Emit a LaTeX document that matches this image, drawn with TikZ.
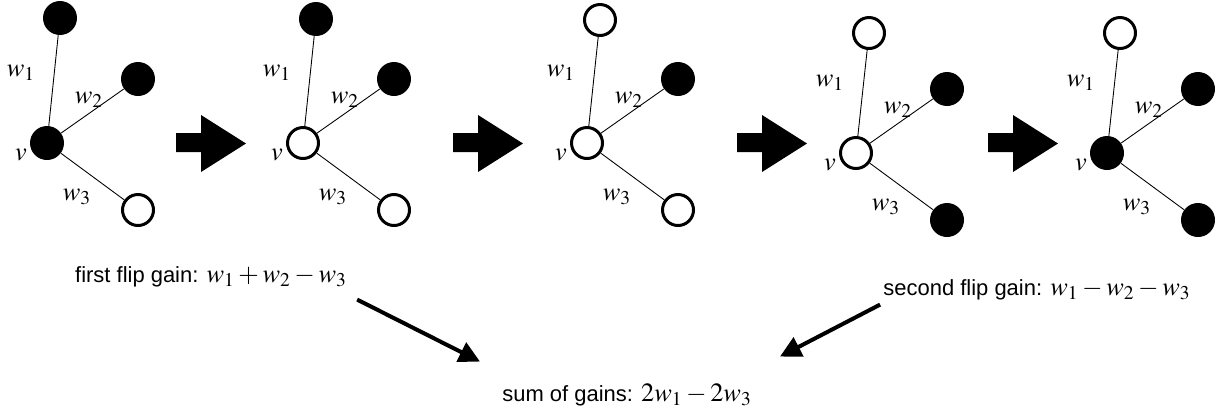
\documentclass[tikz,border=0pt]{standalone}
\usepackage{mathptmx}
\usepackage[no-math]{fontspec}
\setmainfont{Liberation Sans}
\usetikzlibrary{arrows.meta}

\newcommand\mth[1]{{\fontsize{15}{18}\selectfont$#1$}}

\tikzset{
  blk/.style={circle, fill=black, inner sep=0pt, minimum size=0.68cm},
  wht/.style={circle, draw=black, line width=0.06cm, fill=white, inner sep=0pt, minimum size=0.62cm},
  edge/.style={black, line width=0.5pt},
  lbl/.style={inner sep=0pt, font=\fontsize{15}{18}\selectfont},
  gaintxt/.style={inner sep=0pt, font=\fontsize{12.5}{15}\selectfont},
  gainarrow/.style={line width=0.08cm, -{Triangle[length=0.42cm,width=0.42cm]}}
}

\begin{document}
\begin{tikzpicture}[x=0.02cm, y=-0.02cm]

\useasboundingbox (0,0) rectangle (1215,410);

%--- Graphs: v position, top offset, colours (top/right/v/bottom) ---
\foreach \g/\vx/\vy/\ty/\ct/\cr/\cv/\cb in {
    1/47/143/125/blk/blk/blk/wht,
    2/303/143/124/blk/blk/wht/wht,
    3/587/143/123/wht/blk/wht/wht,
    4/856/153/120/wht/blk/wht/blk,
    5/1107/153/120/wht/blk/blk/blk}{
  \node[\cv] (v\g) at (\vx,\vy) {};
  \node[\ct] (t\g) at (\vx+13,\vy-\ty) {};
  \node[\cr] (r\g) at (\vx+91,\vy-64) {};
  \node[\cb] (b\g) at (\vx+91,\vy+67) {};
  \draw[edge] (v\g) -- (t\g);
  \draw[edge] (v\g) -- (r\g);
  \draw[edge] (v\g) -- (b\g);
  \node[lbl] (wa\g) at (\vx-26,\vy-70) {$w_1$};
  \node[lbl] (wb\g) at (\vx+42,\vy-43) {$w_2$};
  \node[lbl] (vl\g) at (\vx-26,\vy+12) {$v$};
  \node[lbl] (wc\g) at (\vx+30,\vy+54) {$w_3$};
}

%--- Block arrows ---
\foreach \ax in {176,453,737,988}{
  \fill (\ax,133) -- (\ax+25,133) -- (\ax+25,115) -- (\ax+70,143.5)
    -- (\ax+25,172) -- (\ax+25,152) -- (\ax,152) -- cycle;
}

%--- Gains ---
\node[gaintxt] (gain1) at (211,277) {first flip gain: \mth{w_1+w_2-w_3}};
\node[gaintxt] (gain2) at (1037,290) {second flip gain: \mth{w_1-w_2-w_3}};
\node[gaintxt] (sum) at (627,395) {sum of gains: \mth{2w_1-2w_3}};

\draw[gainarrow] ([shift={(10,12)}]gain1.south east) -- ([shift={(-22,-22)}]sum.north west);
\draw[gainarrow] ([shift={(-3,4)}]gain2.south west) -- ([shift={(28,-27)}]sum.north east);

\end{tikzpicture}
\end{document}
